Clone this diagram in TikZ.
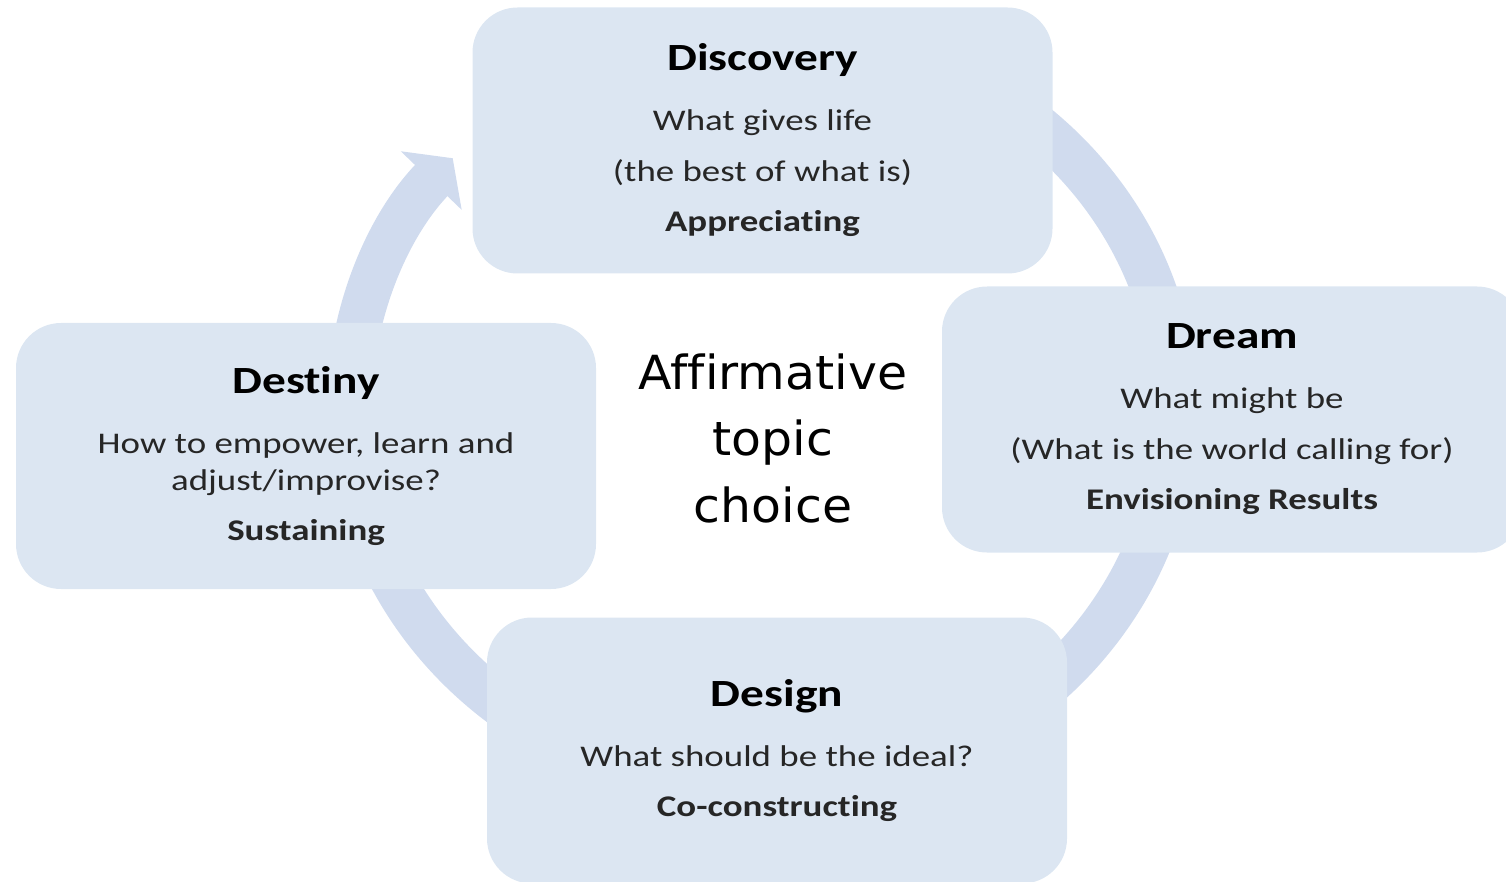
\documentclass[tikz,border=0pt]{standalone}
\usepackage{fontspec}
\setmainfont{Carlito}[FakeStretch=1.23, Ligatures=NoCommon]
\newfontfamily\topicfont{DejaVu Sans}[FakeStretch=1.04, Ligatures=NoCommon]
\usetikzlibrary{arrows.meta}

\definecolor{boxblue}{HTML}{DCE6F2}
\definecolor{ringblue}{HTML}{D0DBEE}

% heading line of a phase box
\newcommand{\phase}[1]{{\fontsize{38.5}{50.5}\selectfont\bfseries\color{black} #1}}

\begin{document}
\begin{tikzpicture}[x=1pt,y=-1pt,>=Triangle,
    phasebox/.style={fill=boxblue, rounded corners=45pt, inner sep=0pt,
      minimum width=580pt, minimum height=266pt, align=center, text=black!85,
      font={\lineskiplimit=-100pt\fontsize{30}{50.5}\selectfont}},
    ring/.style={draw=ringblue, line width=45pt}]
    \useasboundingbox (0,0) rectangle (1506,882);
    \clip (0,0) rectangle (1506,882);

    % the cycle, drawn first so the boxes sit on top of it
    \coordinate (c) at (762,410);
    \draw[ring, -{Triangle[width=83pt 0, length=31pt 0]}]
        (c) ++(300:413 and 380) arc[start angle=300, end angle=581.5,
        x radius=413, y radius=380];

    \node[phasebox] (discovery) at (762.5,140.5) {\phase{Discovery}\\[9.5pt]
        What gives life\\ (the best of what is)\\ \textbf{Appreciating}};
    \node[phasebox] (dream) at (1232,419.5) {\phase{Dream}\\[9.5pt]
        What might be\\ (What is the world calling for)\\ \textbf{Envisioning Results}};
    \node[phasebox] (design) at (777,750.5) {\phase{Design}\\[9.5pt]
        What should be the ideal?\\ \textbf{Co-constructing}};
    \node[phasebox] (destiny) at (306,456) {\phase{Destiny}\\[9.5pt]
        How to empower, learn and\\[-13.5pt] adjust/improvise?\\ \textbf{Sustaining}};

    % topic in the middle
    \node[align=center, inner sep=0pt,
        font={\lineskiplimit=-100pt\topicfont\fontsize{47}{66.5}\selectfont}]
        (topic) at (773,438) {Affirmative\\ topic\\ choice};
\end{tikzpicture}
\end{document}
